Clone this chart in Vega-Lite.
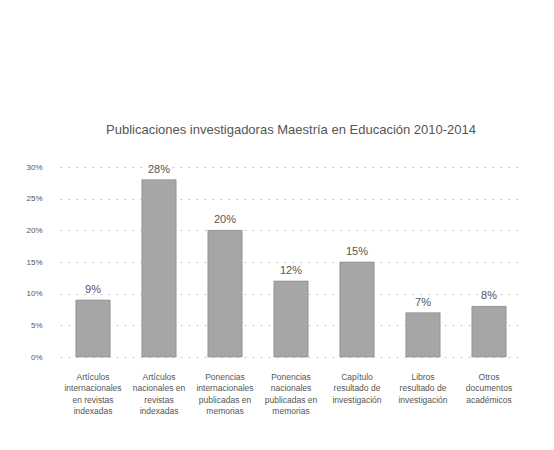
{
  "$schema": "https://vega.github.io/schema/vega-lite/v6.json",
  "width": 462,
  "height": 190,
  "autosize": {"type": "none"},
  "padding": {"left": 60, "top": 167, "right": 32, "bottom": 93},
  "background": "white",
  "title": {
    "text": "Publicaciones investigadoras Maestría en Educación 2010-2014",
    "font": "Liberation Sans",
    "fontSize": 13,
    "fontWeight": "normal",
    "color": "#555555",
    "offset": 26,
    "anchor": "middle"
  },
  "config": {
    "view": {"stroke": null},
    "font": "Liberation Sans"
  },
  "data": {
    "values": [
      {"cat": "Artículos|internacionales|en revistas|indexadas", "pct": 0.09, "lbl": "9%", "ord": 1},
      {"cat": "Artículos|nacionales en|revistas|indexadas", "pct": 0.28, "lbl": "28%", "ord": 2},
      {"cat": "Ponencias|internacionales|publicadas en|memorias", "pct": 0.20, "lbl": "20%", "ord": 3},
      {"cat": "Ponencias|nacionales|publicadas en|memorias", "pct": 0.12, "lbl": "12%", "ord": 4},
      {"cat": "Capítulo|resultado de|investigación", "pct": 0.15, "lbl": "15%", "ord": 5},
      {"cat": "Libros|resultado de|investigación", "pct": 0.07, "lbl": "7%", "ord": 6},
      {"cat": "Otros|documentos|académicos", "pct": 0.08, "lbl": "8%", "ord": 7}
    ]
  },
  "encoding": {
    "x": {
      "field": "cat",
      "type": "nominal",
      "sort": {"field": "ord"},
      "scale": {"paddingInner": 0.48, "paddingOuter": 0.24},
      "axis": {
        "title": null,
        "labelAngle": 0,
        "labelExpr": "split(datum.label, '|')",
        "labelFontSize": 8.5,
        "labelColor": "#555555",
        "labelLineHeight": 11.5,
        "labelPadding": 15,
        "ticks": false,
        "domain": false,
        "labelLimit": 90
      }
    },
    "y": {
      "field": "pct",
      "type": "quantitative",
      "scale": {"domain": [0, 0.3]},
      "axis": {
        "title": null,
        "format": ".0%",
        "values": [0, 0.05, 0.1, 0.15, 0.2, 0.25, 0.3],
        "labelFontSize": 8,
        "labelColor": "#555555",
        "ticks": false,
        "domain": false,
        "labelPadding": 18,
        "grid": true,
        "gridColor": "#c8c8c8",
        "gridDash": [2, 6],
        "gridWidth": 1
      }
    }
  },
  "layer": [
    {"mark": {"type": "bar", "color": "#a6a6a6", "stroke": "#777777", "strokeWidth": 0.5}},
    {
      "mark": {"type": "text", "dy": -10, "fontSize": 11, "color": "#555555"},
      "encoding": {"text": {"field": "lbl"}}
    }
  ]
}
